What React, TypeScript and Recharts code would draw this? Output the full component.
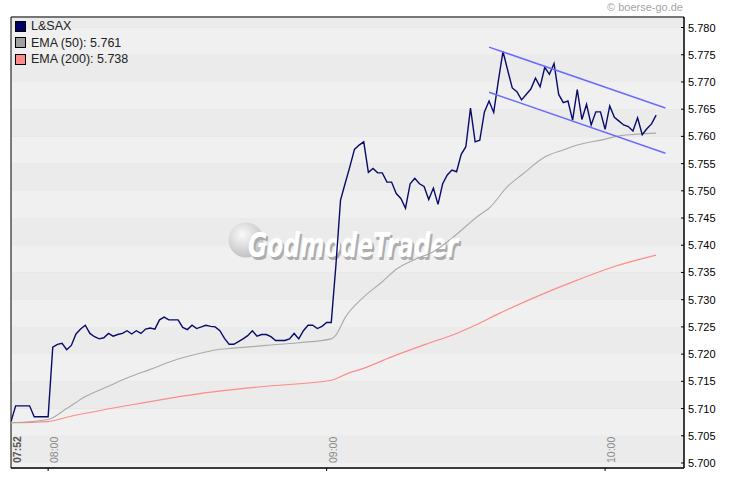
import React from 'react';
import {
  ComposedChart,
  Line,
  XAxis,
  YAxis,
  CartesianGrid,
  ReferenceArea,
  ReferenceLine,
} from 'recharts';

// ---- data (minute index 0 = 07:52) ----
const prices = [
  5.7076, 5.7105, 5.7105, 5.7105, 5.7105, 5.7085, 5.7085, 5.7085, 5.7085, 5.7213,
  5.7218, 5.722, 5.7208, 5.7216, 5.7237, 5.7246, 5.7253, 5.7238, 5.7232, 5.7228,
  5.723, 5.7238, 5.7233, 5.7236, 5.7238, 5.7243, 5.7237, 5.7243, 5.7238, 5.7246,
  5.7248, 5.7246, 5.7263, 5.7268, 5.7263, 5.7263, 5.7263, 5.7249, 5.7245, 5.7253,
  5.7247, 5.725, 5.7253, 5.7251, 5.725, 5.7243, 5.7229, 5.7218, 5.7218, 5.7223,
  5.7228, 5.7234, 5.7243, 5.7233, 5.7236, 5.7236, 5.7232, 5.7225, 5.7225, 5.7225,
  5.7228, 5.7238, 5.7228, 5.7243, 5.7253, 5.7253, 5.7247, 5.7251, 5.7258, 5.7258,
  5.7363, 5.7483, 5.7514, 5.7544, 5.7576, 5.7584, 5.759, 5.7534, 5.7541, 5.7533,
  5.7533, 5.7516, 5.7516, 5.7495, 5.7486, 5.7468, 5.7513, 5.7523, 5.7513, 5.7508,
  5.7484, 5.7505, 5.7475, 5.7513, 5.7529, 5.7538, 5.7535, 5.7567, 5.7581, 5.7652,
  5.759, 5.7593, 5.7645, 5.7665, 5.7644, 5.7702, 5.7756, 5.7722, 5.7689, 5.7682,
  5.7667, 5.7677, 5.7687, 5.7707, 5.7691, 5.7727, 5.7714, 5.7734, 5.7677, 5.7662,
  5.7665, 5.763, 5.7686, 5.7631, 5.7659, 5.7621, 5.7645, 5.7645, 5.7613, 5.7656,
  5.7635, 5.7628, 5.7621, 5.7618, 5.761, 5.7634, 5.7603, 5.7614, 5.7623, 5.7639,
];

const ema50Minutes = [0, 8, 12, 16, 21, 25, 30, 36, 41, 45, 48, 55, 62, 69, 70, 72, 76, 80, 83, 87, 91, 95, 101, 103, 107, 110, 115, 119, 122, 128, 131, 139];
const ema50Values = [5.7074, 5.708, 5.71, 5.7122, 5.7141, 5.7156, 5.7172, 5.7191, 5.7202, 5.7209, 5.7211, 5.7216, 5.7221, 5.7228, 5.7235, 5.7267, 5.7305, 5.7333, 5.7356, 5.7374, 5.7388, 5.7413, 5.7456, 5.7468, 5.7508, 5.7529, 5.7562, 5.7575, 5.7584, 5.7595, 5.7601, 5.7606];

const ema200Minutes = [0, 8, 12, 26, 41, 55, 69, 73, 75, 82, 90, 96, 100, 105, 122, 130, 139];
const ema200Values = [5.7074, 5.7076, 5.7084, 5.7107, 5.7128, 5.7141, 5.7152, 5.7166, 5.7171, 5.7195, 5.722, 5.7238, 5.7253, 5.7274, 5.7336, 5.7361, 5.7382];

const channelUpper = [{ x: 103, y: 5.7764 }, { x: 141, y: 5.7652 }];
const channelLower = [{ x: 103, y: 5.7681 }, { x: 141, y: 5.7569 }];

const tickMinutes = [0, 8, 68, 128];
const tickLabels = ['07:52', '08:00', '09:00', '10:00'];

const yTicks = [5.7, 5.705, 5.71, 5.715, 5.72, 5.725, 5.73, 5.735, 5.74, 5.745, 5.75, 5.755, 5.76, 5.765, 5.77, 5.775, 5.78];
const Y_MIN = 5.69908;
const Y_MAX = 5.78193;
const X_MAX = 145;

const legendLabels = ['L&SAX', 'EMA (50): 5.761', 'EMA (200): 5.738'];
const legendColors = ['#000066', '#a0a0a0', '#ff8a8a'];

// ---- derived tables ----
const priceData = prices.map((v, i) => ({ m: i, v }));
const ema50Data = ema50Minutes.map((m, i) => ({ m, v: ema50Values[i] }));
const ema200Data = ema200Minutes.map((m, i) => ({ m, v: ema200Values[i] }));
const bandEdges = [Y_MIN, ...yTicks, Y_MAX];

const FONT = '"Liberation Sans", Arial, sans-serif';

function TimeTick(props: any) {
  const { x, y, payload } = props;
  const i = tickMinutes.indexOf(payload.value);
  const first = i === 0;
  return (
    <g>
      {!first && <line x1={x} x2={x} y1={y} y2={y + 3} stroke="#000" />}
      <text
        transform={`translate(${x + 10},${y - 5}) rotate(-90)`}
        textAnchor="start"
        fontSize={10.5}
        fontFamily={FONT}
        fill={first ? '#555' : '#8a8a8a'}
        fontWeight={first ? 'bold' : 'normal'}
      >
        {tickLabels[i]}
      </text>
    </g>
  );
}

function PriceTick(props: any) {
  const { x, y, payload } = props;
  return (
    <g>
      <line x1={x - 3} x2={x} y1={y} y2={y} stroke="#000" />
      <text x={x + 4} y={y + 4} textAnchor="start" fontSize={11} fontFamily={FONT} fill="#000">
        {Number(payload.value).toFixed(3)}
      </text>
    </g>
  );
}

const WM_FONT = '"DejaVu Sans", sans-serif';

function Watermark() {
  return (
    <g>
      <defs>
        <radialGradient id="wmGrad" cx="40%" cy="35%" r="65%">
          <stop offset="0%" stopColor="#fafafa" />
          <stop offset="100%" stopColor="#c2c2c2" />
        </radialGradient>
      </defs>
      <circle cx={246} cy={240} r={17.5} fill="url(#wmGrad)" />
      <text
        x={250}
        y={260}
        fontSize={33}
        fontStyle="italic"
        fontWeight="bold"
        fontFamily={WM_FONT}
        fill="#adadad"
        textLength={210}
        lengthAdjust="spacingAndGlyphs"
      >
        GodmodeTrader
      </text>
      <text
        x={248}
        y={257}
        fontSize={33}
        fontStyle="italic"
        fontWeight="bold"
        fontFamily={WM_FONT}
        fill="#ffffff"
        textLength={210}
        lengthAdjust="spacingAndGlyphs"
      >
        GodmodeTrader
      </text>
    </g>
  );
}

export default function App() {
  return (
    <div style={{ position: 'absolute', left: 0, top: 0, width: 730, height: 481, background: '#fff' }}>
      <ComposedChart
        width={730}
        height={481}
        margin={{ top: 17, right: 0, bottom: 12, left: 11 }}
      >
        {bandEdges.slice(0, -1).map((lo, i) => (
          <ReferenceArea
            key={'band' + i}
            x1={0}
            x2={X_MAX}
            y1={lo}
            y2={bandEdges[i + 1]}
            fill={i % 2 === 0 ? '#f0f0f0' : '#ebebeb'}
            fillOpacity={1}
            stroke="none"
            ifOverflow="visible"
          />
        ))}
        <ReferenceArea
          x1={0}
          x2={X_MAX}
          y1={Y_MIN}
          y2={Y_MAX}
          fill="none"
          stroke="none"
          ifOverflow="visible"
          shape={() => <Watermark />}
        />
        <CartesianGrid horizontal vertical={false} stroke="#d6d6d6" />
        <XAxis
          dataKey="m"
          type="number"
          domain={[0, X_MAX]}
          ticks={tickMinutes}
          interval={0}
          height={1}
          tickSize={0}
          tickMargin={0}
          tickLine={false}
          axisLine={{ stroke: '#000' }}
          tick={<TimeTick />}
          allowDataOverflow
        />
        <YAxis
          orientation="right"
          type="number"
          domain={[Y_MIN, Y_MAX]}
          ticks={yTicks}
          interval={0}
          width={46}
          tickSize={0}
          tickMargin={0}
          tickLine={false}
          axisLine={{ stroke: '#000' }}
          tick={<PriceTick />}
          allowDataOverflow
        />
        <Line
          data={ema200Data}
          dataKey="v"
          type="monotone"
          stroke="#ff8a8a"
          strokeWidth={1.2}
          dot={false}
          isAnimationActive={false}
        />
        <Line
          data={ema50Data}
          dataKey="v"
          type="monotone"
          stroke="#aaaaaa"
          strokeWidth={1.1}
          dot={false}
          isAnimationActive={false}
        />
        <Line
          data={priceData}
          dataKey="v"
          type="linear"
          stroke="#0a0a6a"
          strokeWidth={1.4}
          dot={false}
          isAnimationActive={false}
        />
        <ReferenceLine segment={channelUpper} stroke="#6b6bff" strokeWidth={1.5} ifOverflow="visible" />
        <ReferenceLine segment={channelLower} stroke="#6b6bff" strokeWidth={1.5} ifOverflow="visible" />
        <ReferenceArea
          x1={0}
          x2={X_MAX}
          y1={Y_MIN}
          y2={Y_MAX}
          fill="none"
          stroke="#000"
          strokeWidth={1}
          ifOverflow="visible"
        />
      </ComposedChart>
      <div
        style={{
          position: 'absolute',
          left: 15,
          top: 18,
          fontFamily: FONT,
          fontSize: 12.5,
          color: '#222',
        }}
      >
        {legendLabels.map((label, i) => (
          <div key={label} style={{ display: 'flex', alignItems: 'center', height: 16.6, whiteSpace: 'nowrap' }}>
            <span
              style={{
                display: 'inline-block',
                width: 9,
                height: 9,
                border: '1px solid #000',
                background: legendColors[i],
                marginRight: 5,
              }}
            />
            {label}
          </div>
        ))}
      </div>
      <div
        style={{
          position: 'absolute',
          right: 47,
          top: 0,
          fontFamily: FONT,
          fontSize: 11,
          color: '#a5a5a5',
          lineHeight: '14px',
        }}
      >
        © boerse-go.de
      </div>
    </div>
  );
}
